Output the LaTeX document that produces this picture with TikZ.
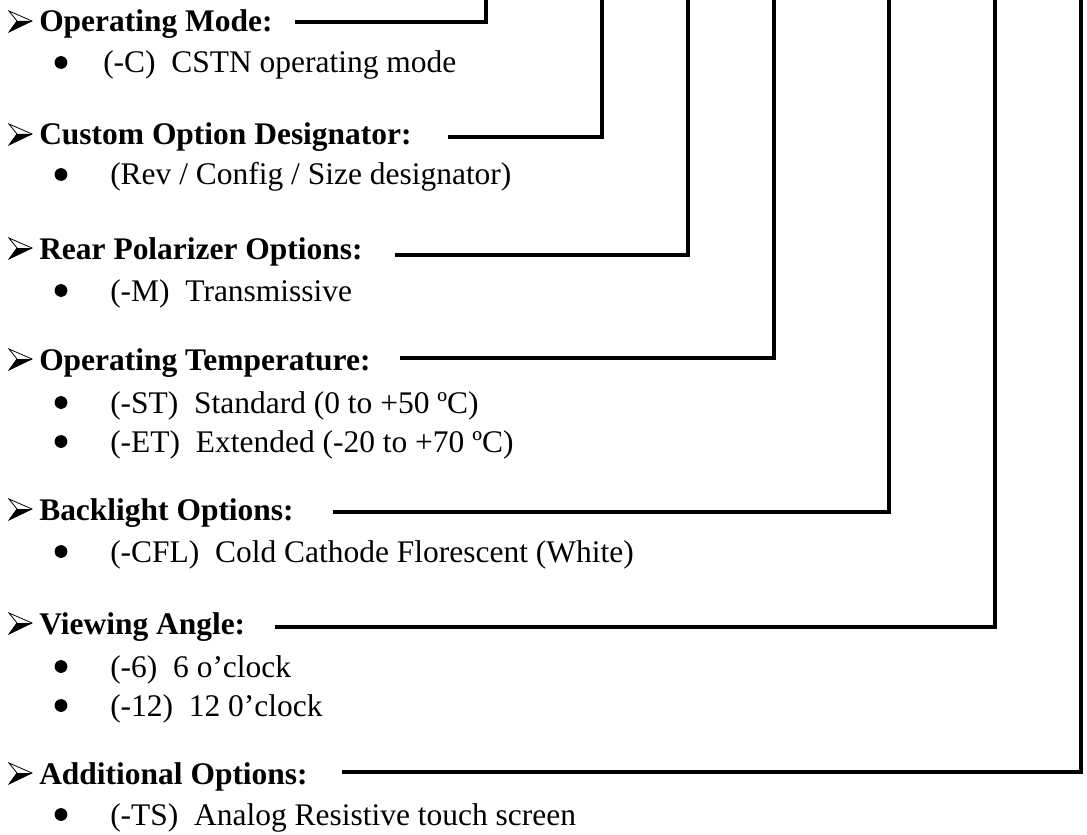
\documentclass[tikz,border=0pt]{standalone}
\usepackage{fontspec}
\setmainfont{Liberation Serif}
\newcommand{\txtsize}{\fontsize{23.6pt}{28pt}\selectfont}

\tikzset{
  head/.style={anchor=base west,inner sep=0pt,font=\txtsize\bfseries},
  entry/.style={anchor=base west,inner sep=0pt,font=\txtsize},
  lead/.style={line width=2.4pt},
  hdarrow/.pic={
    \draw[line width=0.6pt,line join=miter] (1,-21) -- (24,-11) -- (1,0) -- (9,-11) -- cycle;
    \fill (9,-11) -- (24,-11) -- (1,0) -- cycle;
  },
  itemdot/.pic={
    \fill (0,-10.5) circle (4.8pt);
  },
}

\begin{document}
\begin{tikzpicture}[x=0.75pt,y=-0.75pt]
        \useasboundingbox (0,0) rectangle (1087,834);
        %operating mode
        \pic at (8,32) {hdarrow};
        \node[head] (om) at (39,32) {Operating Mode:};
        \pic at (61,73) {itemdot};
        \node[entry] (omc) at (103,73) {(-C)\ \ CSTN operating mode};
        %custom option designator
        \pic at (8,145) {hdarrow};
        \node[head] (cod) at (39,145) {Custom Option Designator:};
        \pic at (61,185) {itemdot};
        \node[entry] (codr) at (110,185) {(Rev / Config / Size designator)};
        %rear polarizer
        \pic at (8,259) {hdarrow};
        \node[head] (rpo) at (39,259) {Rear Polarizer Options:};
        \pic at (61,301) {itemdot};
        \node[entry] (rpom) at (110,301) {(-M)\ \ Transmissive};
        %operating temperature
        \pic at (8,370) {hdarrow};
        \node[head] (ot) at (39,370) {Operating Temperature:};
        \pic at (61,413) {itemdot};
        \node[entry] (otst) at (110,413) {(-ST)\ \ Standard (0 to +50 ºC)};
        \pic at (61,452) {itemdot};
        \node[entry] (otet) at (110,452) {(-ET)\ \ Extended (-20 to +70 ºC)};
        %backlight
        \pic at (8,520) {hdarrow};
        \node[head] (bl) at (39,520) {Backlight Options:};
        \pic at (61,562) {itemdot};
        \node[entry] (blcfl) at (110,562) {(-CFL)\ \ Cold Cathode Florescent (White)};
        %viewing angle
        \pic at (8,634) {hdarrow};
        \node[head] (va) at (39,634) {Viewing Angle:};
        \pic at (61,677) {itemdot};
        \node[entry] (vasix) at (110,677) {(-6)\ \ 6 o’clock};
        \pic at (61,716) {itemdot};
        \node[entry] (vatw) at (110,716) {(-12)\ \ 12 0’clock};
        %additional options
        \pic at (8,784) {hdarrow};
        \node[head] (ao) at (39,784) {Additional Options:};
        \pic at (61,825) {itemdot};
        \node[entry] (aots) at (110,825) {(-TS)\ \ Analog Resistive touch screen};

        %punti delle linee
        \coordinate (omL) at (295,22);   \coordinate (omT) at (486,0);
        \coordinate (codL) at (448,137); \coordinate (codT) at (602,0);
        \coordinate (rpoL) at (395,255); \coordinate (rpoT) at (688,0);
        \coordinate (otL) at (400,358);  \coordinate (otT) at (774,0);
        \coordinate (blL) at (333,512);  \coordinate (blT) at (889,0);
        \coordinate (vaL) at (275,627);  \coordinate (vaT) at (995,0);
        \coordinate (aoL) at (342,772);  \coordinate (aoT) at (1081,0);

        %linee verso l'alto
        \draw[lead] (omL) -| (omT);
        \draw[lead] (codL) -| (codT);
        \draw[lead] (rpoL) -| (rpoT);
        \draw[lead] (otL) -| (otT);
        \draw[lead] (blL) -| (blT);
        \draw[lead] (vaL) -| (vaT);
        \draw[lead] (aoL) -| (aoT);
\end{tikzpicture}
\end{document}
